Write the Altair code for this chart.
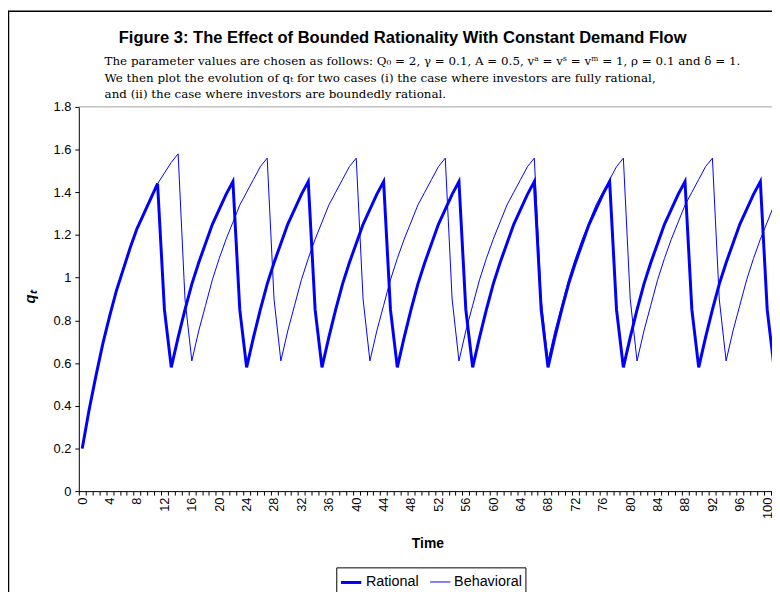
import altair as alt
import pandas as pd

# ---------------- data ----------------
time = list(range(0, 102))

rational = [
    0.20, 0.38, 0.54, 0.69, 0.82, 0.94, 1.04, 1.14, 1.23, 1.30, 1.37, 1.44, 0.85, 0.58,
    0.72, 0.85, 0.97, 1.07, 1.16, 1.25, 1.32, 1.39, 1.45, 0.85, 0.58,
    0.72, 0.85, 0.97, 1.07, 1.16, 1.25, 1.32, 1.39, 1.45, 0.85, 0.58,
    0.72, 0.85, 0.97, 1.07, 1.16, 1.25, 1.32, 1.39, 1.45, 0.85, 0.58,
    0.72, 0.85, 0.97, 1.07, 1.16, 1.25, 1.32, 1.39, 1.45, 0.85, 0.58,
    0.72, 0.85, 0.97, 1.07, 1.16, 1.25, 1.32, 1.39, 1.45, 0.85, 0.58,
    0.72, 0.85, 0.97, 1.07, 1.16, 1.25, 1.32, 1.39, 1.45, 0.85, 0.58,
    0.72, 0.85, 0.97, 1.07, 1.16, 1.25, 1.32, 1.39, 1.45, 0.85, 0.58,
    0.72, 0.85, 0.97, 1.07, 1.16, 1.25, 1.32, 1.39, 1.45, 0.85, 0.58,
]

behavioral = [
    0.20, 0.38, 0.54, 0.69, 0.82, 0.94, 1.04, 1.14, 1.23, 1.30, 1.37, 1.44, 1.49, 1.54, 1.58, 0.90, 0.61,
    0.75, 0.87, 0.99, 1.09, 1.18, 1.26, 1.34, 1.40, 1.46, 1.52, 1.56, 0.90, 0.61,
    0.75, 0.87, 0.99, 1.09, 1.18, 1.26, 1.34, 1.40, 1.46, 1.52, 1.56, 0.90, 0.61,
    0.75, 0.87, 0.99, 1.09, 1.18, 1.26, 1.34, 1.40, 1.46, 1.52, 1.56, 0.90, 0.61,
    0.75, 0.87, 0.99, 1.09, 1.18, 1.26, 1.34, 1.40, 1.46, 1.52, 1.56, 0.90, 0.61,
    0.75, 0.87, 0.99, 1.09, 1.18, 1.26, 1.34, 1.40, 1.46, 1.52, 1.56, 0.90, 0.61,
    0.75, 0.87, 0.99, 1.09, 1.18, 1.26, 1.34, 1.40, 1.46, 1.52, 1.56, 0.90, 0.61,
    0.75, 0.87, 0.99, 1.09, 1.18, 1.26, 1.34,
]

series_names = ["Rational", "Behavioral"]
y_ticks = [0, 0.2, 0.4, 0.6, 0.8, 1.0, 1.2, 1.4, 1.6, 1.8]
x_tick_edges = [t - 0.5 for t in range(0, 102)]

title_text = "Figure 3: The Effect of Bounded Rationality With Constant Demand Flow"
note_lines = [
    "The parameter values are chosen as follows: Q\u2080 = 2, \u03b3 = 0.1, A = 0.5, v\u1d43 = v\u02e2 = v\u1d50 = 1, \u03c1 = 0.1 and \u03b4 = 1.",
    "We then plot the evolution of q\u209c for two cases (i) the case where investors are fully rational,",
    "and (ii) the case where investors are boundedly rational.",
]
x_title = "Time"
y_title = "q\u209c"

# ---------------- tables ----------------
df = pd.DataFrame({
    "t": time + time,
    "q": rational + behavioral,
    "series": ["Rational"] * len(time) + ["Behavioral"] * len(time),
})
one = pd.DataFrame({"k": [0]})

W, H = 700, 388
SANS = "Liberation Sans"
SERIF = "DejaVu Serif"

legend = alt.Legend(
    orient="none", legendX=260, legendY=465, direction="horizontal", title=None,
    symbolType="stroke", symbolSize=420, labelFont=SANS, labelFontSize=14.5,
    labelColor="black", strokeColor="black", fillColor="white", padding=3,
    columnPadding=8, labelOffset=3,
)

lines = alt.Chart(df).mark_line(clip=True).encode(
    x=alt.X(
        "t:Q",
        scale=alt.Scale(domain=[-0.5, 100.7], nice=False, zero=False),
        axis=alt.Axis(
            values=x_tick_edges,
            labelExpr="(datum.value + 0.5) % 4 == 0 ? format(datum.value + 0.5, 'd') : ''",
            labelAngle=270, labelOffset=3.46, labelOverlap=False, labelFlush=False,
            labelFont=SANS, labelFontSize=13, labelColor="black", labelPadding=2,
            tickSize=4, tickColor="black", domainColor="black", grid=False,
            title=x_title, titleFont=SANS, titleFontSize=14, titleFontWeight="bold",
            titleColor="black", titleX=352, titleY=53, titleBaseline="middle",
        ),
    ),
    y=alt.Y(
        "q:Q",
        scale=alt.Scale(domain=[0, 1.8], nice=False),
        axis=alt.Axis(
            values=y_ticks, format=".1~f",
            labelFont=SANS, labelFontSize=13, labelColor="black", labelPadding=4,
            tickSize=4, tickColor="black", domainColor="black", grid=False,
            title=y_title, titleFont=SANS, titleFontSize=15, titleFontWeight="bold",
            titleFontStyle="italic", titleColor="black", titleX=-42, titleY=192,
        ),
    ),
    color=alt.Color("series:N", scale=alt.Scale(domain=series_names, range=["#0000ff", "#0000ff"]), legend=legend),
    strokeWidth=alt.StrokeWidth("series:N", scale=alt.Scale(domain=series_names, range=[3, 1]), legend=legend),
)

plot_top = alt.Chart(one).mark_rule(color="#a0a0a0", strokeWidth=1).encode(
    x=alt.value(0), x2=alt.value(W + 5), y=alt.value(0)
)
frame_left = alt.Chart(one).mark_rule(color="black", strokeWidth=1.5).encode(
    x=alt.value(-71), y=alt.value(-97), y2=alt.value(H + 110)
)
frame_top = alt.Chart(one).mark_rule(color="black", strokeWidth=1.5).encode(
    x=alt.value(-72), x2=alt.value(W + 5), y=alt.value(-96.5)
)

title_mark = alt.Chart(one).mark_text(
    text=title_text, font=SANS, fontSize=16.7, fontWeight="bold", color="black",
    align="center", baseline="middle",
).encode(x=alt.value(327), y=alt.value(-70))

note_layers = []
for i, line in enumerate(note_lines):
    note_layers.append(
        alt.Chart(one).mark_text(
            text=line, font=SERIF, fontSize=12, color="black",
            align="left", baseline="middle",
        ).encode(x=alt.value(26), y=alt.value(-46.5 + 17 * i))
    )

chart = alt.layer(
    plot_top, lines, frame_left, frame_top, title_mark, *note_layers
).properties(
    width=W, height=H,
    autosize=alt.AutoSizeParams(type="none"),
    padding={"left": 71.5, "top": 97, "right": 0, "bottom": 99},
    background="white",
).configure_view(stroke=None)

chart.save("out.html", embed_options={"renderer": "svg", "actions": False})
